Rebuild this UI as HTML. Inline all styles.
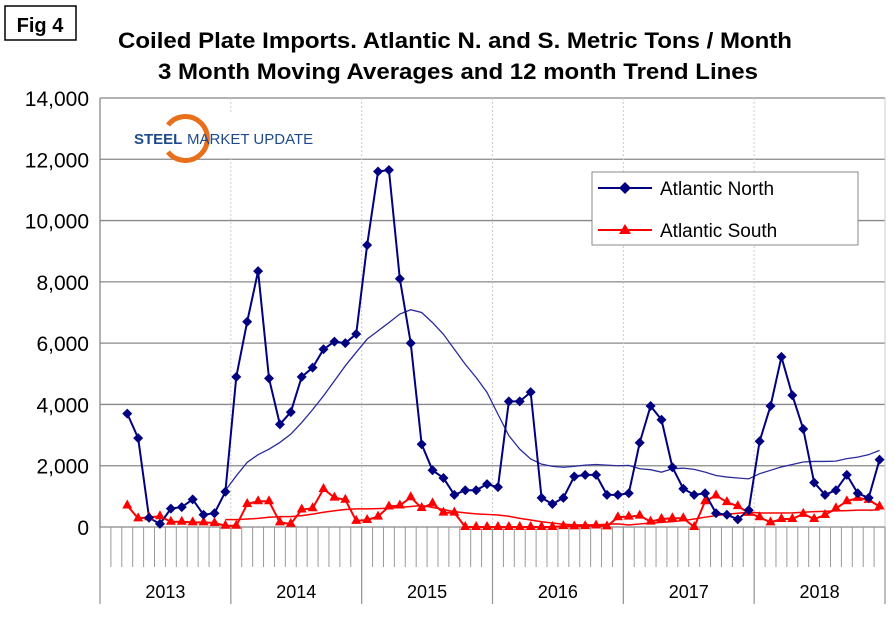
<!DOCTYPE html>
<html><head><meta charset="utf-8"><style>
body{margin:0;background:#fff;width:894px;height:622px;overflow:hidden;font-family:"Liberation Sans",Arial,sans-serif}
</style></head><body>
<svg id="chart" width="894" height="622" xmlns="http://www.w3.org/2000/svg" font-family="Liberation Sans, Arial, sans-serif">
<rect x="5" y="6" width="71" height="34" fill="#fff" stroke="#000" stroke-width="1.5"/>
<text x="40" y="32" font-size="20" font-weight="bold" text-anchor="middle">Fig 4</text>
<text x="118" y="48" font-size="22" font-weight="bold" textLength="674" lengthAdjust="spacingAndGlyphs">Coiled Plate Imports. Atlantic N. and S. Metric Tons / Month</text>
<text x="158" y="79" font-size="22" font-weight="bold" textLength="600" lengthAdjust="spacingAndGlyphs">3 Month Moving Averages and 12 month Trend Lines</text>
<g id="grid"></g><g id="axes"></g>
<g>
<rect x="130" y="112" width="180" height="44" fill="#fff"/>
<path d="M168 125 A22 22 0 1 1 168 152" fill="none" stroke="#e8701a" stroke-width="5"/>
<text x="134" y="144" font-size="15" font-weight="bold" fill="#1e4a8c">STEEL</text>
<text x="187" y="144" font-size="15" fill="#1e4a8c">MARKET UPDATE</text>
</g>
<g id="series"></g>
<g>
<rect x="592" y="172" width="266" height="73" fill="#fff" stroke="#888"/>
<line x1="598" y1="188" x2="652" y2="188" stroke="#000080" stroke-width="2"/>
<path d="M625 182 L631 188 L625 194 L619 188Z" fill="#000080"/>
<text x="660" y="195" font-size="19">Atlantic North</text>
<line x1="598" y1="230" x2="652" y2="230" stroke="#f00" stroke-width="2"/>
<path d="M625 224 L631 234 L619 234Z" fill="#f00"/>
<text x="660" y="237" font-size="19">Atlantic South</text>
</g>
</svg>
<script>
const years=["2013","2014","2015","2016","2017","2018"];
const yTicks=[0,2000,4000,6000,8000,10000,12000,14000];
const north=[3700,2900,300,100,600,650,900,400,450,1150,
4900,6700,8350,4850,3350,3750,4900,5200,5800,6050,6000,6300,
9200,11600,11650,8100,6000,2700,1850,1600,1050,1200,1200,1400,
1300,4100,4100,4400,950,750,950,1650,1700,1700,1050,1050,
1100,2750,3950,3500,1950,1250,1050,1100,450,400,250,550,
2800,3950,5550,4300,3200,1450,1050,1200,1700,1100,950,2200];
const south=[700,280,320,350,170,170,150,150,130,40,
40,750,840,840,150,100,570,610,1240,960,890,200,
230,340,670,700,970,620,770,470,470,0,0,0,
0,0,0,0,0,0,30,20,30,50,20,320,
340,370,175,260,285,285,0,840,1030,810,680,460,
320,150,260,260,430,260,390,610,840,950,885,670];
const northTrend=[1190,
1670,2110,2360,2540,2760,3030,3410,3830,4280,4770,5260,5700,
6130,6400,6670,6950,7090,7000,6670,6290,5800,5310,4880,4390,
3680,2980,2540,2220,2050,1980,1950,1980,2020,2040,2020,2000,
2010,1900,1870,1790,1900,1920,1880,1790,1680,1630,1600,1570,
1740,1850,1960,2040,2120,2140,2140,2150,2230,2280,2360,2500];
const southTrend=[240,
240,260,280,320,340,340,370,420,480,530,570,590,
590,600,610,640,670,700,640,570,500,460,430,410,
390,350,280,230,170,130,90,70,70,70,90,100,
65,100,130,150,175,210,260,320,370,415,450,480,
460,455,455,460,480,500,510,525,535,550,550,560];
const X0=100,X1=885,Y0=527,YTOP=98,NM=72,MW=(X1-X0)/NM;
const xm=i=>X0+(i+0.5)*MW;
const yv=v=>Y0-(v/14000)*(Y0-YTOP);
const NS="http://www.w3.org/2000/svg";
function mk(t,a,p){const e=document.createElementNS(NS,t);for(const k in a)e.setAttribute(k,a[k]);p.appendChild(e);return e;}
const grid=document.getElementById('grid'),axes=document.getElementById('axes'),ser=document.getElementById('series');
yTicks.forEach(v=>{
 if(v>0){const l=mk('line',{x1:X0,x2:X1,y1:yv(v),y2:yv(v),stroke:'#888','stroke-width':1.3},grid);
 
 }
 const t=mk('text',{x:89,y:yv(v)+8,'font-size':21,'text-anchor':'end'},axes);t.textContent=v.toLocaleString('en-US');
 
 
});
years.forEach((y,i)=>{
 const x=X0+i*12*MW;
 if(i>0){const d=mk('line',{x1:x,x2:x,y1:YTOP,y2:Y0,stroke:'#ccc','stroke-dasharray':'2,2'},grid);
 
 }
 const s=mk('line',{x1:x,x2:x,y1:Y0,y2:604,stroke:'#999','stroke-width':1.3},axes);
 
 
 const t=mk('text',{x:x+6*MW,y:598,'font-size':18,'text-anchor':'middle'},axes);t.textContent=y;
 
 
});
mk('line',{x1:X1,x2:X1,y1:Y0,y2:604,stroke:'#999','stroke-width':1.3},axes);
for(let m=1;m<NM;m++){if(m%12)mk('line',{x1:X0+m*MW,x2:X0+m*MW,y1:Y0,y2:567,stroke:'#999'},axes);}
mk('line',{x1:X0,x2:X0,y1:YTOP,y2:Y0,stroke:'#888','stroke-width':1.3},axes);
mk('line',{x1:X0,x2:X1,y1:Y0,y2:Y0,stroke:'#888','stroke-width':1.3},axes);
mk('line',{x1:X1,x2:X1,y1:YTOP,y2:Y0,stroke:'#ccc'},axes);
function line(arr,start,color,w,name){
 const p=mk('polyline',{points:arr.map((v,i)=>xm(i+start)+','+yv(v)).join(' '),fill:'none',stroke:color,'stroke-width':w},ser);
 
 
}
line(northTrend,11,'#2b2b9a',1.3,'north-trend-line');
line(southTrend,11,'#f00',1.5,'south-trend-line');
line(south,2,'#f00',2,'south-line');
line(north,2,'#000080',2,'north-line');
south.forEach((v,i)=>{const x=xm(i+2),y=yv(v);
 const p=mk('path',{d:`M${x} ${y-6}L${x+5} ${y+3}L${x-5} ${y+3}Z`,fill:'#f00'},ser);
 
 });
north.forEach((v,i)=>{const x=xm(i+2),y=yv(v);
 const p=mk('path',{d:`M${x} ${y-5}L${x+5} ${y}L${x} ${y+5}L${x-5} ${y}Z`,fill:'#000080'},ser);
 
 });
</script>
</body></html>
